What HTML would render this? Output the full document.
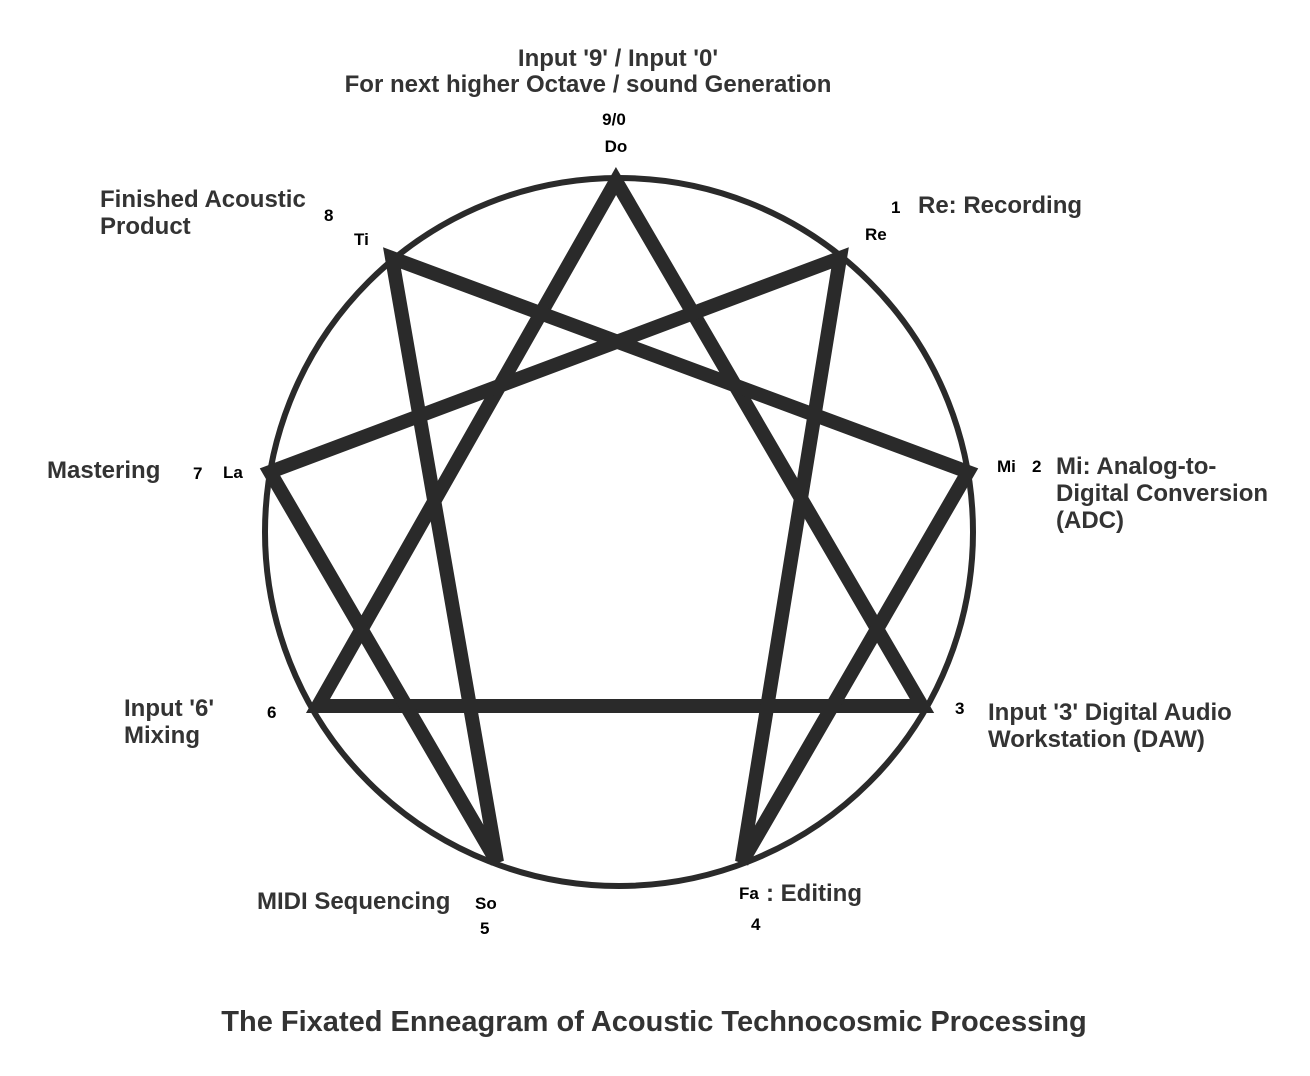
<!DOCTYPE html>
<html><head><meta charset="utf-8"><style>
html,body{margin:0;padding:0;background:#fff;}
svg{display:block;}
text{font-family:"Liberation Sans",Arial,sans-serif;font-weight:bold;}
.l{font-size:24px;fill:#333;}
.s{font-size:17px;fill:#000;}
</style></head><body>
<svg width="1310" height="1076" viewBox="0 0 1310 1076" xmlns="http://www.w3.org/2000/svg">
<rect width="1310" height="1076" fill="#fff"/>
<circle cx="619" cy="532" r="354" fill="none" stroke="#2a2a2a" stroke-width="6"/>
<g fill="none" stroke="#2a2a2a" stroke-width="14" stroke-linejoin="miter" stroke-linecap="round">
<polygon points="616,181 922,706 318,706"/>
<polygon points="840,258 742,862 968,472 392,258 497,862 270,472"/>
</g>
<text class="l" x="618" y="66" text-anchor="middle">Input '9' / Input '0'</text>
<text class="l" x="588" y="92" text-anchor="middle">For next higher Octave / sound Generation</text>
<text class="s" x="614" y="125" text-anchor="middle">9/0</text>
<text class="s" x="616" y="152" text-anchor="middle">Do</text>
<text class="l" x="100" y="207">Finished Acoustic</text>
<text class="l" x="100" y="234">Product</text>
<text class="s" x="324" y="221">8</text>
<text class="s" x="354" y="245">Ti</text>
<text class="s" x="891" y="213">1</text>
<text class="l" x="918" y="213">Re: Recording</text>
<text class="s" x="865" y="240">Re</text>
<text class="l" x="47" y="478">Mastering</text>
<text class="s" x="193" y="479">7</text>
<text class="s" x="223" y="478">La</text>
<text class="s" x="997" y="472">Mi</text>
<text class="s" x="1032" y="472">2</text>
<text class="l" x="1056" y="474">Mi: Analog-to-</text>
<text class="l" x="1056" y="501">Digital Conversion</text>
<text class="l" x="1056" y="528">(ADC)</text>
<text class="l" x="124" y="716">Input '6'</text>
<text class="l" x="124" y="743">Mixing</text>
<text class="s" x="267" y="718">6</text>
<text class="s" x="955" y="714">3</text>
<text class="l" x="988" y="720">Input '3' Digital Audio</text>
<text class="l" x="988" y="747">Workstation (DAW)</text>
<text class="l" x="257" y="909">MIDI Sequencing</text>
<text class="s" x="475" y="909">So</text>
<text class="s" x="480" y="934">5</text>
<text class="s" x="739" y="899">Fa</text>
<text class="l" x="766" y="901">: Editing</text>
<text class="s" x="751" y="930">4</text>
<text x="654" y="1031" text-anchor="middle" style="font-size:29px;fill:#333;">The Fixated Enneagram of Acoustic Technocosmic Processing</text>
</svg>
</body></html>
